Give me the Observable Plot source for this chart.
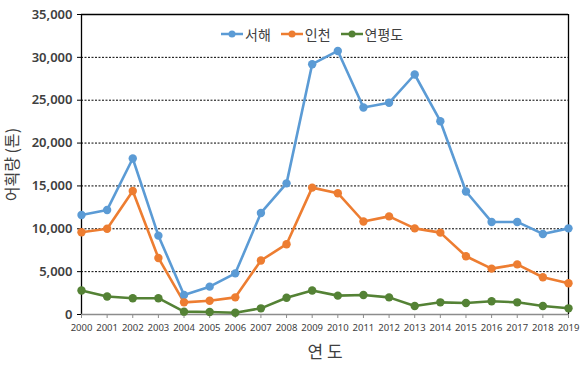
<!DOCTYPE html>
<html>
<head>
<meta charset="utf-8">
<script src="https://cdn.jsdelivr.net/npm/d3@7"></script>
<script src="https://cdn.jsdelivr.net/npm/@observablehq/plot@0.6"></script>
<style>
  body { margin: 0; background: #fff; }
  #wrap { position: relative; width: 580px; height: 380px; font-family: "Noto Sans CJK KR", "Noto Sans", sans-serif; }
  #legend { position: absolute; top: 24px; left: 221px; display: flex; align-items: center; font-size: 14px; color: #404040; }
  #legend .item { display: flex; align-items: center; margin-right: 10px; }
  #legend svg { margin-right: 2px; }
</style>
</head>
<body>
<div id="wrap"><div id="legend"></div></div>
<script>
const years = [2000,2001,2002,2003,2004,2005,2006,2007,2008,2009,2010,2011,2012,2013,2014,2015,2016,2017,2018,2019];
const seohae = [11600,12200,18200,9200,2280,3250,4800,11850,15300,29200,30750,24150,24700,28000,22550,14350,10800,10800,9400,10050];
const incheon = [9600,10000,14400,6600,1420,1600,2000,6300,8200,14800,14150,10850,11450,10050,9550,6800,5350,5850,4350,3650];
const yeonpyeong = [2800,2100,1900,1900,330,300,210,720,1950,2800,2200,2280,2000,990,1420,1340,1540,1420,990,720];
const seriesNames = ["서해", "인천", "연평도"];
const seriesColors = ["#5B9BD5", "#ED7D31", "#548235"];
const yTicks = [0, 5000, 10000, 15000, 20000, 25000, 30000, 35000];
const gridValues = [5000, 10000, 15000, 20000, 25000, 30000];
const yTitle = "어획량 (톤)";
const xTitle = "연 도";

const seriesValues = [seohae, incheon, yeonpyeong];
const data = seriesNames.flatMap((s, i) => years.map((y, j) => ({year: y, value: seriesValues[i][j], series: s})));

const chart = Plot.plot({
  width: 580,
  height: 380,
  marginLeft: 81,
  marginRight: 12,
  marginTop: 14,
  marginBottom: 66,
  style: {fontFamily: "'Noto Sans', 'Noto Sans CJK KR', sans-serif", background: "#fff"},
  x: {domain: [2000, 2019], label: null},
  y: {domain: [0, 35000], label: null},
  color: {domain: seriesNames, range: seriesColors},
  marks: [
    Plot.ruleY(gridValues, {stroke: "#000", strokeWidth: 1, strokeDasharray: "2,1.5"}),
    Plot.ruleY([35000], {stroke: "#000", strokeWidth: 1.3}),
    Plot.ruleX([2019], {stroke: "#000", strokeWidth: 1.3}),
    Plot.ruleX([2000], {stroke: "#000", strokeWidth: 1.3}),
    Plot.ruleY([0], {stroke: "#8c8c8c", strokeWidth: 1.3}),
    Plot.axisY({ticks: yTicks, tickFormat: d3.format(","), tickSize: 4, tickPadding: 5, fontSize: 13, fontWeight: 600, color: "#404040", stroke: "#000", label: null}),
    Plot.axisX({ticks: years, tickFormat: d => String(d), tickSize: 4, tickPadding: 6, fontSize: 9.5, color: "#404040", stroke: "#8c8c8c", label: null}),
    Plot.text([yTitle], {frameAnchor: "left", textAnchor: "middle", lineAnchor: "middle", rotate: -90, dx: -69, fontSize: 16, fill: "#404040", fontFamily: "'Noto Sans CJK KR', sans-serif"}),
    Plot.text([xTitle], {frameAnchor: "bottom", textAnchor: "middle", lineAnchor: "middle", dy: 38, fontSize: 17, fill: "#404040", fontFamily: "'Noto Sans CJK KR', sans-serif"}),
    Plot.line(data, {x: "year", y: "value", z: "series", stroke: "series", strokeWidth: 2.6}),
    Plot.dot(data, {x: "year", y: "value", fill: "series", r: 4.2})
  ]
});
document.getElementById("wrap").prepend(chart);

const legend = document.getElementById("legend");
seriesNames.forEach((name, i) => {
  const item = document.createElement("div");
  item.className = "item";
  item.innerHTML = `<svg width="22" height="10"><line x1="0" y1="5" x2="22" y2="5" stroke="${seriesColors[i]}" stroke-width="2.5"/><circle cx="11" cy="5" r="3.5" fill="${seriesColors[i]}"/></svg><span>${name}</span>`;
  legend.appendChild(item);
});
</script>
</body>
</html>
